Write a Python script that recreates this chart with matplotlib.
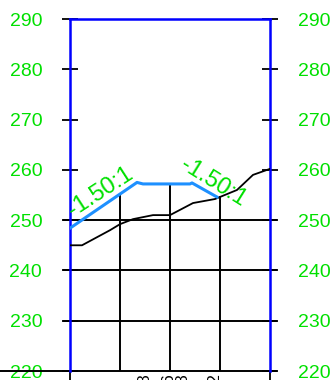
"""
Cross section: existing ground vs design profile with slope labels.
"""

import numpy as np
import matplotlib.pyplot as plt

# Existing ground profile (offset m, elevation m)
ground_x = [0, 2.4, 8, 10, 12.6, 16.6, 20, 24.6, 29, 33.4, 36.6, 40]
ground_z = [245.0, 245.0, 248.0, 249.2, 250.2, 251.0, 251.0, 253.4, 254.2, 256.0, 259.0, 260.2]

# Design profile
design_x = [0, 13.4, 14.6, 24, 24.4, 29.4]
design_z = [248.4, 257.5, 257.2, 257.2, 257.4, 254.6]

# Section lines and levels
section_x = [10, 20, 30]
grid_z = [220, 230, 240, 250]
elev_ticks = [220, 230, 240, 250, 260, 270, 280, 290]

# Bottom labels (rotated, mostly cut off in the drawing)
bottom_label_x = [15, 19.8, 22.6, 29]
bottom_labels = ["0+148", "0+156", "0+188", "0+212"]

slope_text = "-1.50:1"
green = "#00E000"

fig = plt.figure(figsize=(3.33, 3.8), dpi=100)
ax = fig.add_axes([70 / 333, 9 / 380, 200 / 333, 352 / 380])
ax.set_xlim(0, 40)
ax.set_ylim(220, 290)

# horizontal grid lines below the section
for z in grid_z:
    x0 = -14 if z == 220 else -1.2
    ax.plot([x0, 41.2], [z, z], color="black", lw=1.4, clip_on=False, zorder=2)

# vertical section lines up to the higher of the two profiles
for sx in section_x:
    top = max(np.interp(sx, design_x, design_z), np.interp(sx, ground_x, ground_z))
    ax.plot([sx, sx], [220, top], color="black", lw=1.4, zorder=2)

ax.plot(ground_x, ground_z, color="black", lw=1.3, zorder=3)
ax.plot(design_x, design_z, color="#1E90FF", lw=2.2, zorder=4)

ax.text(6.0, 255.6, slope_text, color=green, fontsize=17, rotation=33,
        ha="center", va="center", rotation_mode="anchor",
        family="Liberation Sans")
ax.text(28.6, 257.6, slope_text, color=green, fontsize=17, rotation=-32,
        ha="center", va="center", rotation_mode="anchor",
        family="Liberation Sans")

for bx, lab in zip(bottom_label_x, bottom_labels):
    ax.text(bx, 219.6, lab, rotation=90, ha="center", va="top", fontsize=12,
            color="black", family="Liberation Sans", clip_on=False)

for side in ["left", "right", "top"]:
    ax.spines[side].set_color("#0000FF")
    ax.spines[side].set_linewidth(1.8)
ax.spines["bottom"].set_visible(False)

ax.set_yticks(elev_ticks)
ax.tick_params(axis="y", which="both", left=True, right=True, labelleft=True,
               labelright=True, direction="inout", length=12, width=1.3,
               color="black", pad=14, labelsize=14, labelcolor=green)
ax.set_xticks([0, 40])
ax.set_xticklabels([])
ax.tick_params(axis="x", direction="out", length=7, width=1.3, color="black")
for lab in ax.get_yticklabels():
    lab.set_family("Liberation Sans")

fig.savefig("out.png", dpi=100)
